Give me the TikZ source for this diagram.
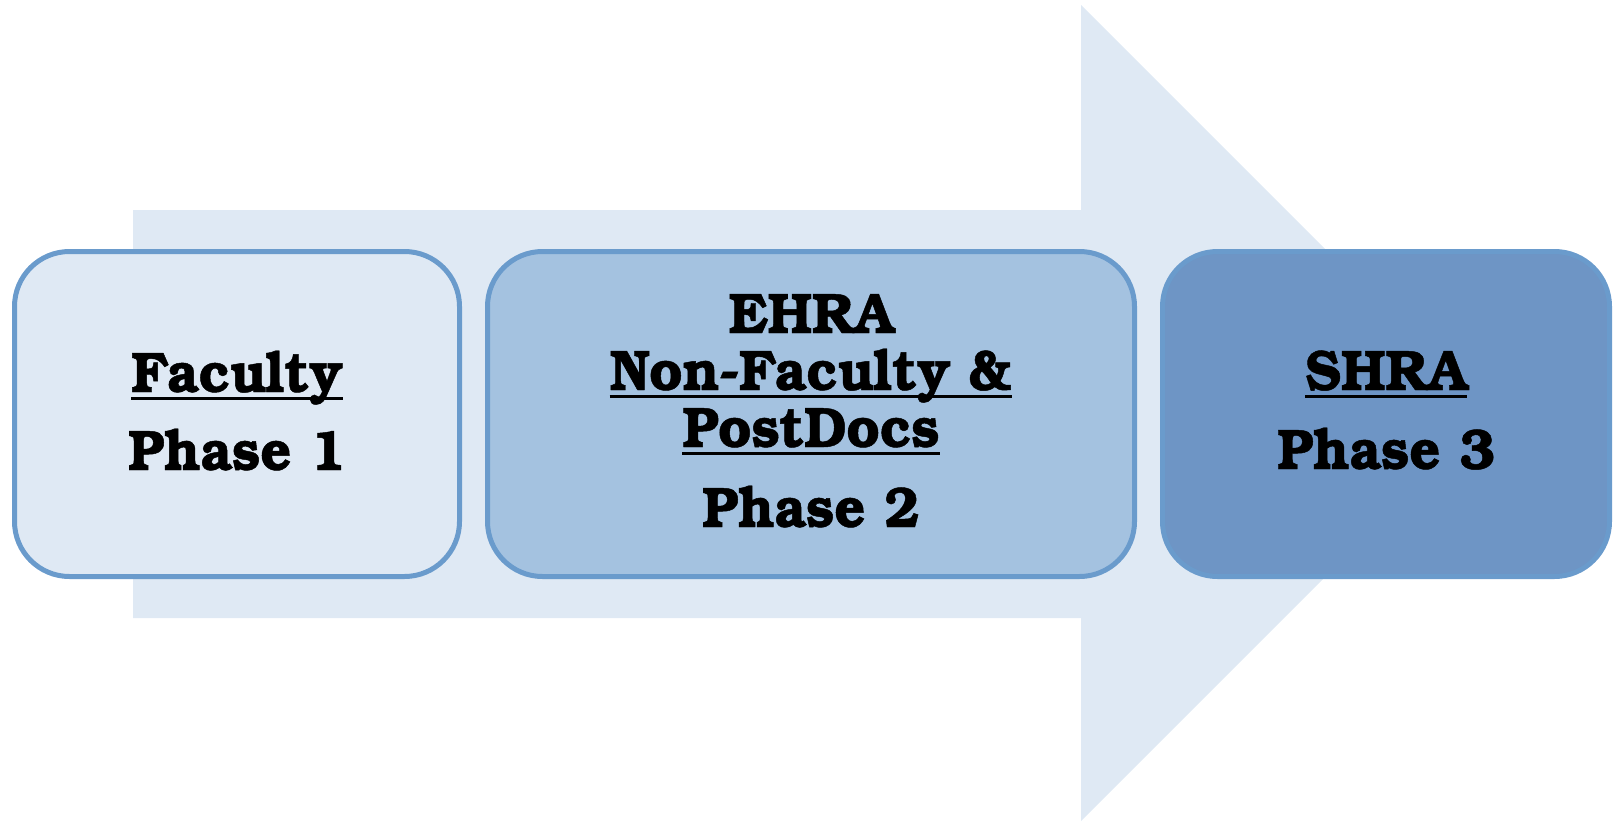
\documentclass[tikz,border=0pt]{standalone}
\usepackage{fontspec}
\setmainfont{TeX Gyre Bonum}[BoldFeatures={FakeStretch=0.95,FakeBold=0.8}]
\begin{document}
\begin{tikzpicture}[x=1pt,y=-1pt,
  arrowfill/.style={fill=arrowblue, draw=none},
  phasebox/.style={draw=edgeblue, line width=5pt, rounded corners=55pt},
  lbl/.style={inner sep=0pt, anchor=base, font=\fontsize{57}{57}\selectfont\bfseries},
  uline/.style={line width=2.8pt, black}]
\definecolor{arrowblue}{HTML}{DFE9F4}
\definecolor{edgeblue}{HTML}{6A9BCC}
\definecolor{fillone}{HTML}{DFE9F4}
\definecolor{filltwo}{HTML}{A4C2E0}
\definecolor{fillthree}{HTML}{6E95C5}
\useasboundingbox (0,0) rectangle (1620,822);
% big background arrow
\fill[arrowfill] (133,210) -- (1081,210) -- (1081,5) -- (1489,413)
  -- (1081,821) -- (1081,618) -- (133,618) -- cycle;
% phase boxes
\draw[phasebox, fill=fillone]   (14.5,251.5) rectangle (459.5,576.5);
\draw[phasebox, fill=filltwo]   (487.5,251.5) rectangle (1134.5,576.5);
\draw[phasebox, fill=fillthree] (1162.5,251.5) rectangle (1609.5,576.5);
% phase 1
\node[lbl] (fac) at (237,392) {Faculty};
\node[lbl] (p1) at (237,470) {Phase 1};
\draw[uline] ([yshift=-6.5pt]fac.base west) -- ([yshift=-6.5pt]fac.base east);
% phase 2
\node[lbl] (ehra) at (811,333) {EHRA};
\node[lbl] (nonfac) at (811,390) {Non-Faculty \&};
\node[lbl] (post) at (811,447) {PostDocs};
\node[lbl] (p2) at (811,527) {Phase 2};
\draw[uline] ([yshift=-6.5pt]nonfac.base west) -- ([yshift=-6.5pt]nonfac.base east);
\draw[uline] ([yshift=-6.5pt]post.base west) -- ([yshift=-6.5pt]post.base east);
% phase 3
\node[lbl] (shra) at (1386,390) {SHRA};
\node[lbl] (p3) at (1386,469) {Phase 3};
\draw[uline] ([yshift=-6.5pt]shra.base west) -- ([yshift=-6.5pt]shra.base east);
\end{tikzpicture}
\end{document}
